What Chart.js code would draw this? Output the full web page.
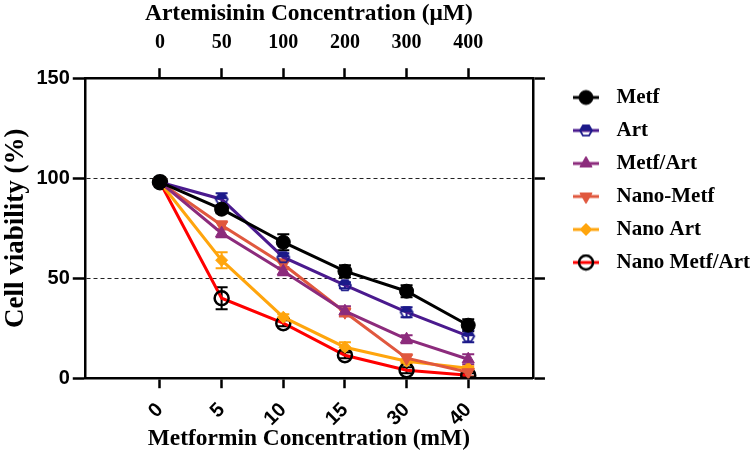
<!DOCTYPE html>
<html>
<head>
<meta charset="utf-8">
<script src="https://cdn.jsdelivr.net/npm/chart.js@4/dist/chart.umd.min.js"></script>
<style>
  body { margin: 0; background: #fff; }
</style>
</head>
<body>
<canvas id="chart-viability" width="750" height="457"></canvas>
<script>
// tick labels for the two x axes
const metfLabels = ['0', '5', '10', '15', '30', '40'];
const artLabels = ['0', '50', '100', '200', '300', '400'];

// cell viability (%) per concentration step
const metf = [98, 84.5, 68, 53.5, 43.5, 26.5];
const art = [98, 89.5, 60.5, 46.5, 33, 21];
const metfArt = [98, 72.5, 53.5, 33.5, 19.5, 9.5];
const nanoMetf = [98, 76.5, 57, 33, 10, 3];
const nanoArt = [98, 59, 30.5, 15.5, 8.5, 5];
const nanoMetfArt = [98, 40, 27.5, 11.5, 4, 1.5];

// error bars (+/-)
const metfErr = [0.5, 2, 4, 3, 3, 3];
const artErr = [0.5, 3, 2, 1.5, 2.5, 3];
const metfArtErr = [0.5, 2, 2, 2.5, 2, 2.5];
const nanoMetfErr = [0.5, 2, 2.5, 2, 2, 2];
const nanoArtErr = [0.5, 4, 1.5, 2.5, 1, 1];
const nanoMetfArtErr = [0.5, 5.5, 1.5, 1.5, 1.5, 1];

const serif = 'Liberation Serif';
const sans = 'Liberation Sans';

function toPoints(values) {
    return values.map((v, i) => ({ x: i, y: v }));
}

// half filled hexagon used for "Art"
function artMarker() {
    const c = document.createElement('canvas');
    c.width = 16;
    c.height = 16;
    const g = c.getContext('2d');
    const r = 6;
    g.beginPath();
    for (let k = 0; k < 6; k++) {
        const a = Math.PI / 3 * k;
        const px = 8 + r * Math.cos(a), py = 8 + r * Math.sin(a);
        k === 0 ? g.moveTo(px, py) : g.lineTo(px, py);
    }
    g.closePath();
    g.save();
    g.clip();
    g.fillStyle = '#1c1a8a';
    g.fillRect(0, 0, 16, 8);
    g.restore();
    g.lineWidth = 1.8;
    g.strokeStyle = '#1c1a8a';
    g.stroke();
    return c;
}

const artPoint = artMarker();
const legendBox = 49;

// legend icon: short line with the marker on it
function legendIcon(ds) {
    const c = document.createElement('canvas');
    c.width = legendBox;
    c.height = 18;
    const g = c.getContext('2d');
    g.strokeStyle = ds.borderColor;
    g.lineWidth = 3;
    g.beginPath();
    g.moveTo(16, 9);
    g.lineTo(42, 9);
    g.stroke();
    if (ds.pointStyle === artPoint) {
        g.drawImage(artPoint, 21, 1);
    } else {
        g.fillStyle = ds.pointBackgroundColor;
        g.strokeStyle = ds.pointBorderColor;
        g.lineWidth = ds.pointBorderWidth;
        Chart.helpers.drawPoint(g, {
            pointStyle: ds.pointStyle,
            radius: ds.pointRadius,
            rotation: ds.pointRotation || 0,
            borderWidth: ds.pointBorderWidth
        }, 29, 9);
    }
    return c;
}

function makeDataset(label, values, errors, lineColor, markerColor, style, extra) {
    return Object.assign({
        label: label,
        data: toPoints(values),
        errors: errors,
        errorColor: markerColor,
        borderColor: lineColor,
        borderWidth: 3,
        pointStyle: style,
        pointRadius: 7,
        pointBackgroundColor: markerColor,
        pointBorderColor: markerColor,
        pointBorderWidth: 1,
        pointHoverRadius: 7,
        tension: 0,
        fill: false
    }, extra || {});
}

const datasets = [
    makeDataset('Metf', metf, metfErr, '#000000', '#000000', 'circle'),
    makeDataset('Art', art, artErr, '#4a1a8e', '#1c1a8a', artPoint),
    makeDataset('Metf/Art', metfArt, metfArtErr, '#8c2b7c', '#8c2b7c', 'triangle'),
    makeDataset('Nano-Metf', nanoMetf, nanoMetfErr, '#e0583e', '#e0583e', 'triangle', { pointRotation: 180 }),
    makeDataset('Nano Art', nanoArt, nanoArtErr, '#ffa50d', '#ffa50d', 'rectRot', { pointRadius: 6 }),
    makeDataset('Nano Metf/Art', nanoMetfArt, nanoMetfArtErr, '#ff0000', '#000000', 'circle',
        { pointBackgroundColor: 'rgba(0,0,0,0)', pointBorderWidth: 2.5, pointRadius: 7 })
];

// draw the error bars with the chart scales
const errorBars = {
    id: 'errorBars',
    beforeDatasetsDraw(chart) {
        const { ctx, scales } = chart;
        const xs = scales.x, ys = scales.y;
        ctx.save();
        chart.data.datasets.forEach(ds => {
            ctx.strokeStyle = ds.errorColor;
            ctx.lineWidth = 2;
            ds.data.forEach((p, i) => {
                const e = ds.errors[i];
                const px = xs.getPixelForValue(p.x);
                const top = ys.getPixelForValue(p.y + e);
                const bot = ys.getPixelForValue(p.y - e);
                ctx.beginPath();
                ctx.moveTo(px, top);
                ctx.lineTo(px, bot);
                ctx.moveTo(px - 6, top);
                ctx.lineTo(px + 6, top);
                ctx.moveTo(px - 6, bot);
                ctx.lineTo(px + 6, bot);
                ctx.stroke();
            });
        });
        ctx.restore();
    }
};

const xMin = -1.22, xMax = 6.05;
const setIndexTicks = scale => {
    scale.ticks = metfLabels.map((_, i) => ({ value: i }));
};

const ctx = document.getElementById('chart-viability').getContext('2d');
const myChart = new Chart(ctx, {
    type: 'line',
    data: { datasets: datasets },
    plugins: [errorBars],
    options: {
        responsive: false,
        animation: false,
        devicePixelRatio: 1,
        layout: { padding: { left: 0, right: -10, top: 0, bottom: -4 } },
        scales: {
            x: {
                type: 'linear',
                position: 'bottom',
                min: xMin,
                max: xMax,
                afterBuildTicks: setIndexTicks,
                ticks: {
                    callback: (v, i) => metfLabels[i],
                    minRotation: 45,
                    maxRotation: 45,
                    color: '#000',
                    padding: 10,
                    font: { family: sans, weight: 'bold', size: 20 }
                },
                grid: { drawOnChartArea: false, tickLength: 10, tickWidth: 2.5, tickColor: '#000' },
                border: { color: '#000', width: 2.5 },
                title: {
                    display: true,
                    text: 'Metformin Concentration (mM)',
                    color: '#000',
                    padding: { top: -16, bottom: 8 },
                    font: { family: serif, weight: 'bold', size: 23.4 }
                }
            },
            x2: {
                type: 'linear',
                position: 'top',
                min: xMin,
                max: xMax,
                afterBuildTicks: setIndexTicks,
                ticks: {
                    callback: (v, i) => artLabels[i],
                    minRotation: 0,
                    maxRotation: 0,
                    color: '#000',
                    padding: 13,
                    font: { family: serif, weight: 'bold', size: 20 }
                },
                grid: { drawOnChartArea: false, tickLength: 10, tickWidth: 2.5, tickColor: '#000' },
                border: { color: '#000', width: 2.5 },
                title: {
                    display: true,
                    text: 'Artemisinin Concentration (\u03bcM)',
                    color: '#000',
                    padding: { top: 0, bottom: -10 },
                    font: { family: serif, weight: 'bold', size: 23.5 }
                }
            },
            y: {
                min: 0,
                max: 150,
                ticks: {
                    stepSize: 50,
                    color: '#000',
                    padding: 3,
                    font: { family: sans, weight: 'bold', size: 20 }
                },
                grid: {
                    color: c => (c.tick && (c.tick.value === 50 || c.tick.value === 100)) ? '#222' : 'rgba(0,0,0,0)',
                    lineWidth: 1,
                    tickLength: 12,
                    tickWidth: 2.5,
                    tickColor: '#000',
                    tickBorderDash: []
                },
                border: { color: '#000', width: 2.5, dash: [4, 3] },
                title: {
                    display: true,
                    text: 'Cell viability (%)',
                    color: '#000',
                    padding: { top: 0, bottom: 1 },
                    font: { family: serif, weight: 'bold', size: 27 }
                }
            },
            y2: {
                position: 'right',
                min: 0,
                max: 150,
                ticks: { stepSize: 50, display: false },
                grid: { drawOnChartArea: false, tickLength: 12, tickWidth: 2.5, tickColor: '#000' },
                border: { color: '#000', width: 2.5 }
            }
        },
        plugins: {
            legend: {
                position: 'right',
                align: 'start',
                maxWidth: 240,
                title: { display: true, text: ' ', padding: { top: 63, bottom: 0 }, font: { size: 10 } },
                labels: {
                    usePointStyle: true,
                    pointStyleWidth: legendBox,
                    padding: 12,
                    color: '#000',
                    font: { family: serif, weight: 'bold', size: 21 },
                    generateLabels: chart => chart.data.datasets.map((ds, i) => ({
                        text: ds.label,
                        pointStyle: legendIcon(ds),
                        fillStyle: ds.borderColor,
                        strokeStyle: ds.borderColor,
                        lineWidth: 0,
                        fontColor: '#000',
                        hidden: false,
                        datasetIndex: i
                    }))
                }
            },
            tooltip: { enabled: false }
        }
    }
});
</script>
</body>
</html>
